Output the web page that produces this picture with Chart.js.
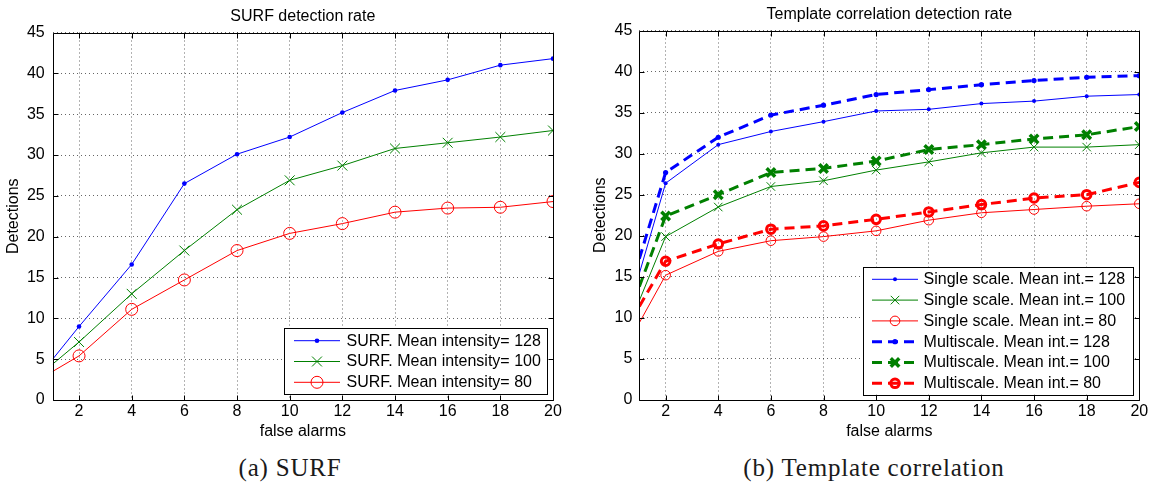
<!DOCTYPE html>
<html><head><meta charset="utf-8">
<script src="https://cdn.jsdelivr.net/npm/chart.js@4.4.1/dist/chart.umd.min.js"></script>
<style>
html,body{margin:0;padding:0;background:#fff;width:1154px;height:491px;overflow:hidden;}
#wrapA{position:absolute;left:0;top:0;width:580px;height:450px;}
#wrapB{position:absolute;left:580px;top:0;width:574px;height:450px;}
.cap{position:absolute;font-family:"Liberation Serif",serif;font-size:25px;line-height:30px;color:#1a1a1a;white-space:nowrap;transform:translateX(-50%);top:453px;letter-spacing:0.8px}
</style></head><body>
<div id="wrapA"><canvas id="cA" width="580" height="450"></canvas></div>
<div id="wrapB"><canvas id="cB" width="574" height="450"></canvas></div>
<div class="cap" style="left:290px">(a) SURF</div>
<div class="cap" style="left:874px">(b) Template correlation</div>
<script>
// ---- data ----
const falseAlarms = [1, 2, 4, 6, 8, 10, 12, 14, 16, 18, 20];
const xTicks = [2, 4, 6, 8, 10, 12, 14, 16, 18, 20];
const yTicks = [0, 5, 10, 15, 20, 25, 30, 35, 40, 45];

const surf128 = [5.0, 9.0, 16.6, 26.5, 30.1, 32.2, 35.2, 37.9, 39.2, 41.0, 41.8];
const surf100 = [4.4, 7.1, 13.0, 18.3, 23.3, 26.9, 28.7, 30.8, 31.5, 32.2, 33.0];
const surf80  = [3.5, 5.4, 11.1, 14.7, 18.3, 20.4, 21.6, 23.0, 23.5, 23.6, 24.3];

const single128 = [15.4, 26.4, 31.1, 32.7, 33.9, 35.2, 35.4, 36.1, 36.4, 37.0, 37.2];
const single100 = [12.1, 19.9, 23.5, 26.0, 26.7, 28.0, 29.0, 30.1, 30.8, 30.8, 31.1];
const single80  = [9.4, 15.2, 18.1, 19.4, 19.9, 20.6, 21.9, 22.8, 23.2, 23.6, 23.9];
const multi128  = [17.2, 27.7, 32.0, 34.7, 35.9, 37.2, 37.8, 38.4, 38.9, 39.3, 39.5];
const multi100  = [13.8, 22.4, 25.0, 27.7, 28.2, 29.1, 30.5, 31.1, 31.8, 32.3, 33.3];
const multi80   = [11.4, 16.9, 19.0, 20.8, 21.2, 22.0, 22.9, 23.8, 24.6, 25.0, 26.5];

const labelsA = ['SURF. Mean intensity= 128', 'SURF. Mean intensity= 100', 'SURF. Mean intensity= 80'];
const labelsB = ['Single scale. Mean int.= 128', 'Single scale. Mean int.= 100', 'Single scale. Mean int.= 80',
                 'Multiscale. Mean int.= 128', 'Multiscale. Mean int.= 100', 'Multiscale. Mean int.= 80'];

// ---- helpers ----
const FONT = '"Liberation Sans", Arial, Helvetica, sans-serif';
const BLUE = '#0000ff', GREEN = '#008000', RED = '#ff0000';

function pts(vals) { return vals.map((v, i) => ({ x: falseAlarms[i], y: v })); }
function radii(r) { return falseAlarms.map((_, i) => i === 0 ? 0 : r); }

function ds(label, vals, color, width, dash, mk) {
  return {
    label, data: pts(vals), borderColor: color, borderWidth: width, borderDash: dash,
    tension: 0, fill: false,
    pointStyle: mk.style, pointRadius: radii(mk.r), pointHoverRadius: radii(mk.r),
    pointBorderColor: color, pointBorderWidth: mk.w,
    pointBackgroundColor: mk.fill ? color : 'rgba(0,0,0,0)',
    mk
  };
}

function drawMarker(ctx, mk, color, x, y) {
  ctx.save();
  ctx.setLineDash([]);
  ctx.strokeStyle = color; ctx.fillStyle = color; ctx.lineWidth = mk.w;
  if (mk.style === 'circle') {
    ctx.beginPath(); ctx.arc(x, y, mk.r, 0, Math.PI * 2);
    if (mk.fill) ctx.fill();
    if (mk.w > 0) ctx.stroke();
  } else if (mk.style === 'crossRot') {
    const d = mk.r * Math.SQRT1_2;
    ctx.beginPath();
    ctx.moveTo(x - d, y - d); ctx.lineTo(x + d, y + d);
    ctx.moveTo(x - d, y + d); ctx.lineTo(x + d, y - d);
    ctx.stroke();
  }
  ctx.restore();
}

const framePlugin = {
  id: 'matFrame',
  afterDraw(chart, args, o) {
    const ctx = chart.ctx, a = chart.chartArea;
    const xs = chart.scales.x, ys = chart.scales.y;
    ctx.save();
    ctx.strokeStyle = '#000'; ctx.lineWidth = 1; ctx.setLineDash([]);
    const L = Math.round(a.left) + 0.5, R = Math.round(a.right) + 0.5;
    const T = Math.round(a.top) + 0.5, B = Math.round(a.bottom) + 0.5;
    ctx.beginPath(); ctx.rect(L, T, R - L, B - T); ctx.stroke();
    const tl = 5;
    ctx.beginPath();
    xTicks.forEach(v => {
      const px = Math.round(xs.getPixelForValue(v)) + 0.5;
      ctx.moveTo(px, B); ctx.lineTo(px, B - tl);
      ctx.moveTo(px, T); ctx.lineTo(px, T + tl);
    });
    yTicks.forEach(v => {
      const py = Math.round(ys.getPixelForValue(v)) + 0.5;
      ctx.moveTo(L, py); ctx.lineTo(L + tl, py);
      ctx.moveTo(R, py); ctx.lineTo(R - tl, py);
    });
    ctx.stroke();
    // legend
    const lg = o;
    if (lg && lg.w) {
      ctx.fillStyle = '#fff';
      ctx.fillRect(lg.x, lg.y, lg.w, lg.h);
      ctx.strokeStyle = '#000'; ctx.lineWidth = 1;
      ctx.strokeRect(Math.round(lg.x) + 0.5, Math.round(lg.y) + 0.5, Math.round(lg.w), Math.round(lg.h));
      chart.data.datasets.forEach((d, i) => {
        const cy = lg.row0 + i * lg.gap;
        ctx.save();
        ctx.strokeStyle = d.borderColor; ctx.lineWidth = d.borderWidth;
        ctx.setLineDash(d.borderDash || []);
        ctx.beginPath(); ctx.moveTo(lg.sx0, cy); ctx.lineTo(lg.sx1, cy); ctx.stroke();
        ctx.restore();
        drawMarker(ctx, d.mk, d.borderColor, (lg.sx0 + lg.sx1) / 2, cy);
        ctx.fillStyle = '#000';
        ctx.font = '16px ' + FONT;
        ctx.textBaseline = 'middle'; ctx.textAlign = 'left';
        ctx.fillText(d.label, lg.tx, cy + 0.5);
      });
    }
    ctx.restore();
  }
};

function makeChart(id, datasets, cfg) {
  return new Chart(document.getElementById(id), {
    type: 'line',
    data: { datasets },
    plugins: [framePlugin],
    options: {
      responsive: false, animation: false, events: [],
      layout: { padding: { left: 0, right: cfg.padRight, top: 0, bottom: cfg.padBottom } },
      plugins: {
        legend: { display: false }, tooltip: { enabled: false },
        title: {
          display: true, text: cfg.title, color: '#000', fullSize: false,
          font: { family: FONT, size: 16, weight: 'normal' },
          padding: { top: cfg.titleTop, bottom: cfg.titleBottom }
        },
        matFrame: cfg.legend
      },
      scales: {
        x: {
          type: 'linear', min: 1, max: 20,
          afterBuildTicks: s => { s.ticks = xTicks.map(v => ({ value: v })); },
          afterFit: s => { s.height = cfg.xHeight; },
          grid: { color: 'rgba(0,0,0,0.6)', lineWidth: 1, drawTicks: false },
          border: { display: false, dash: [1, 3] },
          ticks: { color: '#000', font: { family: FONT, size: 16 }, padding: 2.4, maxRotation: 0, autoSkip: false },
          title: { display: true, text: 'false alarms', color: '#000', font: { family: FONT, size: 16 }, padding: { top: 0, bottom: 2 } }
        },
        y: {
          type: 'linear', min: 0, max: 45,
          afterBuildTicks: s => { s.ticks = yTicks.map(v => ({ value: v })); },
          afterFit: s => { s.width = cfg.yWidth; },
          grid: { color: 'rgba(0,0,0,0.6)', lineWidth: 1, drawTicks: false },
          border: { display: false, dash: [1, 3] },
          ticks: { color: '#000', font: { family: FONT, size: 16 }, padding: cfg.yTickPad, autoSkip: false },
          title: { display: true, text: 'Detections', color: '#000', font: { family: FONT, size: 16 }, padding: { top: cfg.yTitleTop, bottom: 0 } }
        }
      }
    }
  });
}

// ---- chart (a) ----
makeChart('cA', [
  ds(labelsA[0], surf128, BLUE, 1, [], { style: 'circle', r: 2.3, w: 0, fill: true }),
  ds(labelsA[1], surf100, GREEN, 1, [], { style: 'crossRot', r: 7, w: 1, fill: false }),
  ds(labelsA[2], surf80, RED, 1, [], { style: 'circle', r: 6, w: 1, fill: false })
], {
  title: 'SURF detection rate', padRight: 27, padBottom: 6.4, xHeight: 43.6,
  titleTop: 6.9, titleBottom: 6.4, yWidth: 52.7, yTickPad: 8, yTitleTop: 4.3,
  legend: { x: 284, y: 328, w: 263, h: 66, row0: 340.7, gap: 20.8, sx0: 294, sx1: 340, tx: 346.5 }
});

// ---- chart (b) ----
makeChart('cB', [
  ds(labelsB[0], single128, BLUE, 1, [], { style: 'circle', r: 2, w: 0, fill: true }),
  ds(labelsB[1], single100, GREEN, 1, [], { style: 'crossRot', r: 6, w: 1, fill: false }),
  ds(labelsB[2], single80, RED, 1, [], { style: 'circle', r: 4.8, w: 1, fill: false }),
  ds(labelsB[3], multi128, BLUE, 3, [10, 6], { style: 'circle', r: 2.6, w: 0, fill: true }),
  ds(labelsB[4], multi100, GREEN, 3, [10, 6], { style: 'crossRot', r: 6, w: 3.5, fill: false }),
  ds(labelsB[5], multi80, RED, 3, [10, 6], { style: 'circle', r: 4.3, w: 3, fill: false })
], {
  title: 'Template correlation detection rate', padRight: 14.7, padBottom: 6.4, xHeight: 43.6,
  titleTop: 4.9, titleBottom: 6.4, yWidth: 59.3, yTickPad: 7, yTitleTop: 10.5,
  legend: { x: 282.5, y: 266.7, w: 269.5, h: 127.6, row0: 279.3, gap: 20.8, sx0: 292, sx1: 338, tx: 343.6 }
});
</script>
</body></html>
